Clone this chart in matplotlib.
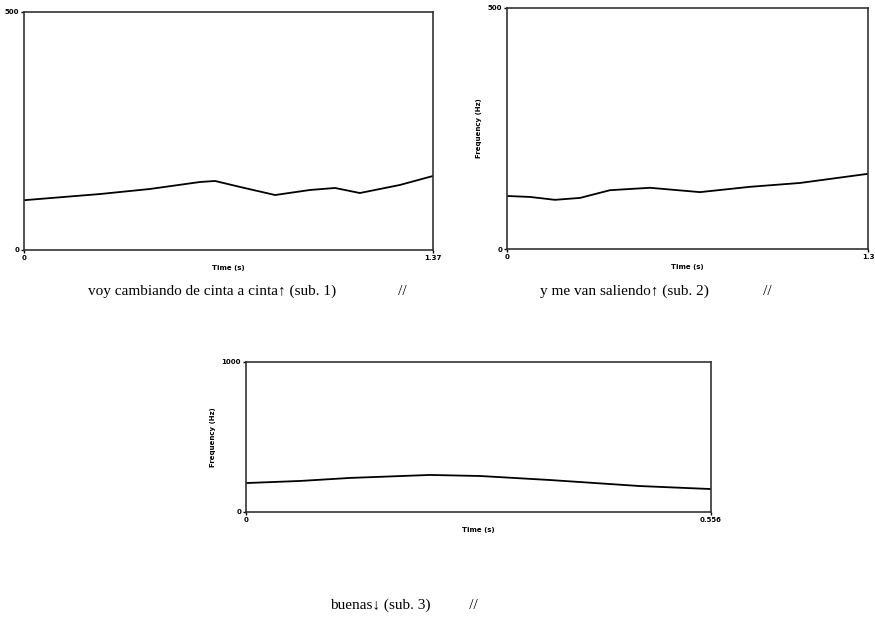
import matplotlib
matplotlib.use('Agg')
import matplotlib.pyplot as plt

# pitch contours
t1 = [0, 0.255, 0.422, 0.590, 0.640, 0.724, 0.841, 0.958, 1.042, 1.125, 1.259, 1.37]
f1 = [104.6, 117.6, 128.2, 142.9, 145.0, 132.4, 115.5, 126.1, 130.3, 119.7, 136.6, 155.5]

t2 = [0, 0.083, 0.173, 0.263, 0.371, 0.515, 0.695, 0.875, 1.055, 1.3]
f2 = [110, 108, 102, 106, 122, 127, 118, 129, 137, 156]

t3 = [0, 0.065, 0.124, 0.220, 0.280, 0.364, 0.471, 0.556]
f3 = [193, 207, 227, 247, 240, 213, 173, 153]

xmax = [1.37, 1.3, 0.556]
ymax = [500, 500, 1000]
xlabs = [['0', '1.37'], ['0', '1.3'], ['0', '0.556']]
ylabs = [['0', '500'], ['0', '500'], ['0', '1000']]
captions = ['voy cambiando de cinta a cinta\u2191 (sub. 1)                //',
            'y me van saliendo\u2191 (sub. 2)              //',
            'buenas\u2193 (sub. 3)          //']

fig = plt.figure(figsize=(8.75, 6.21), dpi=100)
rects = [[24/875, 371/621, 409/875, 238/621],
         [507/875, 372/621, 361/875, 241/621],
         [246/875, 109/621, 465/875, 150/621]]
data = [(t1, f1), (t2, f2), (t3, f3)]

for i, (r, (t, f)) in enumerate(zip(rects, data)):
    ax = fig.add_axes(r)
    ax.plot(t, f, color='black', lw=1.3)
    ax.set_xlim(0, xmax[i])
    ax.set_ylim(0, ymax[i])
    ax.set_xticks([0, xmax[i]])
    ax.set_xticklabels(xlabs[i], fontsize=5, fontweight='heavy')
    ax.set_yticks([0, ymax[i]])
    ax.set_yticklabels(ylabs[i], fontsize=5, fontweight='heavy')
    ax.tick_params(length=2, width=1, pad=1.5)
    for s in ax.spines.values():
        s.set_linewidth(1.2)
        s.set_color('#333333')
    ax.set_xlabel('Time (s)', fontsize=5, fontweight='heavy', labelpad=3)
    if i > 0:
        ax.set_ylabel('Frequency (Hz)', fontsize=5, fontweight='heavy', labelpad=4)

fig.text(88/875, 1 - 291/621, captions[0], ha='left', va='center',
         family='Liberation Serif', fontsize=11)
fig.text(540/875, 1 - 291/621, captions[1], ha='left', va='center',
         family='Liberation Serif', fontsize=11)
fig.text(330/875, 1 - 605/621, captions[2], ha='left', va='center',
         family='Liberation Serif', fontsize=11)

fig.savefig('out.png', dpi=100)
